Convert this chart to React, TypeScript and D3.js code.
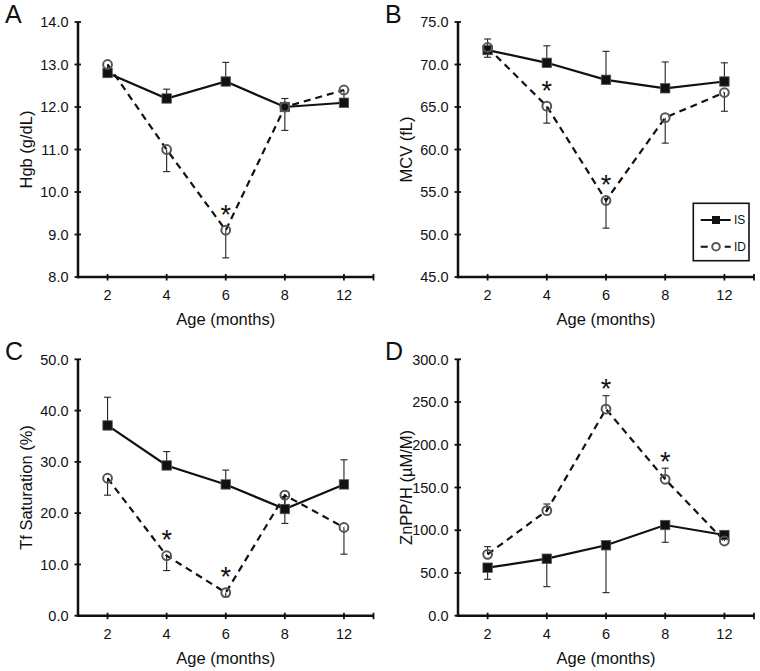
import React from "react";
import * as d3 from "d3";

const months = ["2", "4", "6", "8", "12"];

const hgbIS = [12.8, 12.2, 12.6, 12.0, 12.1];
const hgbISErr = [0.1, 0.22, 0.45, 0.2, 0.1];
const hgbID = [13.0, 11.0, 9.1, 12.0, 12.4];
const hgbIDErr = [0.1, 0.52, 0.65, 0.55, 0.3];
const hgbStars = ["6"];

const mcvIS = [71.7, 70.2, 68.2, 67.2, 68.0];
const mcvISErr = [1.3, 2.0, 3.35, 3.1, 2.2];
const mcvID = [72.0, 65.1, 54.0, 63.75, 66.7];
const mcvIDErr = [1.15, 2.0, 3.25, 3.0, 2.2];
const mcvStars = ["4", "6"];

const tfIS = [37.1, 29.3, 25.6, 20.8, 25.6];
const tfISErr = [5.5, 2.7, 2.8, 2.4, 4.8];
const tfID = [26.8, 11.7, 4.5, 23.5, 17.2];
const tfIDErr = [3.3, 2.9, 0.8, 5.5, 5.2];
const tfStars = ["4", "6"];

const znIS = [56.2, 66.7, 82.4, 106.1, 94.4];
const znISErr = [13.6, 32.7, 55.4, 20.2, 3];
const znID = [71.8, 122.9, 241.8, 159.6, 87.4];
const znIDErr = [9, 7.8, 15.6, 13, 3];
const znStars = ["6", "8"];

const legendLabels = ["IS", "ID"];
const xTitle = "Age (months)";

const FONT = "'Liberation Sans', Arial, Helvetica, sans-serif";

type Panel = {
  letter: string;
  label: string;
  is: number[];
  isErr: number[];
  id: number[];
  idErr: number[];
  domain: [number, number];
  step: number;
  stars: string[];
  isSign: number;
  col: number;
  row: number;
  legend: boolean;
};

const panels: Panel[] = [
  { letter: "A", label: "Hgb (g/dL)", is: hgbIS, isErr: hgbISErr, id: hgbID, idErr: hgbIDErr, domain: [8, 14], step: 1, stars: hgbStars, isSign: 1, col: 0, row: 0, legend: false },
  { letter: "B", label: "MCV (fL)", is: mcvIS, isErr: mcvISErr, id: mcvID, idErr: mcvIDErr, domain: [45, 75], step: 5, stars: mcvStars, isSign: 1, col: 1, row: 0, legend: true },
  { letter: "C", label: "Tf Saturation (%)", is: tfIS, isErr: tfISErr, id: tfID, idErr: tfIDErr, domain: [0, 50], step: 10, stars: tfStars, isSign: 1, col: 0, row: 1, legend: false },
  { letter: "D", label: "ZnPP/H (\u00b5M/M)", is: znIS, isErr: znISErr, id: znID, idErr: znIDErr, domain: [0, 300], step: 50, stars: znStars, isSign: -1, col: 1, row: 1, legend: false },
];

const colX = [
  [78, 373.5],
  [458, 754],
];
const rowY = [
  [277, 22],
  [615.7, 359.3],
];

function PanelView({ p }: { p: Panel }) {
  const [x0, x1] = colX[p.col];
  const [yb, yt] = rowY[p.row];
  const x = d3.scaleBand<string>().domain(months).range([x0, x1]).padding(0);
  const cx = (m: string) => (x(m) as number) + x.bandwidth() / 2;
  const y = d3.scaleLinear().domain(p.domain).range([yb, yt]);
  const ticks = d3.range(p.domain[0], p.domain[1] + p.step / 2, p.step);
  const fmt = d3.format(".1f");
  const line = d3
    .line<number>()
    .x((_, i) => cx(months[i]))
    .y((v) => y(v));
  const capW = 3.5;

  const errBars = (vals: number[], errs: number[], sign: number, key: string) =>
    vals.map((v, i) => {
      const px = cx(months[i]);
      const ye = y(v + sign * errs[i]);
      return (
        <g key={key + i}>
          <line x1={px} x2={px} y1={y(v)} y2={ye} stroke="#222" strokeWidth={1.1} />
          <line x1={px - capW} x2={px + capW} y1={ye} y2={ye} stroke="#222" strokeWidth={1.1} />
        </g>
      );
    });

  const idSign = -p.isSign;

  return (
    <g>
      {/* panel letter */}
      <text x={x0 - 73} y={yt + 1} fontSize={25} fontFamily={FONT} fill="#111">
        {p.letter}
      </text>
      {/* y axis */}
      <line x1={x0} x2={x0} y1={yb + 1.2} y2={yt} stroke="#111" strokeWidth={2.5} />
      {ticks.map((t) => (
        <g key={"yt" + t}>
          <line x1={x0 - 3.5} x2={x0 + 3} y1={y(t)} y2={y(t)} stroke="#111" strokeWidth={1.8} />
          <text x={x0 - 9.5} y={y(t)} dy="0.36em" textAnchor="end" fontSize={14.5} fontFamily={FONT} fill="#111">
            {fmt(t)}
          </text>
        </g>
      ))}
      {/* x axis */}
      <line x1={x0 - 1.2} x2={x1} y1={yb} y2={yb} stroke="#111" strokeWidth={2.5} />
      {months.map((m) => (
        <g key={"xt" + m}>
          <line x1={cx(m)} x2={cx(m)} y1={yb - 3} y2={yb + 3.5} stroke="#111" strokeWidth={1.8} />
          <text x={cx(m)} y={yb + 23} textAnchor="middle" fontSize={14.5} fontFamily={FONT} fill="#111">
            {m}
          </text>
        </g>
      ))}
      <line x1={x1} x2={x1} y1={yb - 3} y2={yb + 3.5} stroke="#111" strokeWidth={1.8} />
      {/* titles */}
      <text x={(x0 + x1) / 2} y={yb + 48} textAnchor="middle" fontSize={16.5} fontFamily={FONT} fill="#111">
        {xTitle}
      </text>
      <text
        transform={`translate(${x0 - 46},${(yb + yt) / 2}) rotate(-90)`}
        textAnchor="middle"
        fontSize={16.5}
        fontFamily={FONT}
        fill="#111"
      >
        {p.label}
      </text>
      {/* error bars */}
      {errBars(p.is, p.isErr, p.isSign, "ise")}
      {errBars(p.id, p.idErr, idSign, "ide")}
      {/* lines */}
      <path d={line(p.is) || ""} fill="none" stroke="#111" strokeWidth={2.2} />
      <path d={line(p.id) || ""} fill="none" stroke="#111" strokeWidth={2.2} strokeDasharray="7,5" />
      {/* markers */}
      {p.is.map((v, i) => (
        <rect key={"sq" + i} x={cx(months[i]) - 4.7} y={y(v) - 4.7} width={9.4} height={9.4} fill="#111" stroke="#555" strokeWidth={0.8} />
      ))}
      {p.id.map((v, i) => (
        <circle key={"ci" + i} cx={cx(months[i])} cy={y(v)} r={4.4} fill="none" stroke="#555" strokeWidth={2} />
      ))}
      {/* significance */}
      {p.stars.map((m) => {
        const i = months.indexOf(m);
        const v = p.id[i];
        const top = Math.min(y(v), y(v + idSign * p.idErr[i]));
        const gap = idSign > 0 ? 13 : 22;
        return (
          <text key={"st" + m} x={cx(m)} y={top - gap} dy="0.58em" textAnchor="middle" fontSize={27} fontFamily={FONT} fill="#111">
            *
          </text>
        );
      })}
      {/* legend */}
      {p.legend && (
        <g>
          <rect x={693.3} y={203.3} width={55.7} height={57.4} fill="#fff" stroke="#111" strokeWidth={1.6} />
          {legendLabels.map((lab, k) => {
            const ly = 220 + k * 26.7;
            return (
              <g key={lab}>
                <line x1={700.7} x2={730.7} y1={ly} y2={ly} stroke="#111" strokeWidth={2} strokeDasharray={k === 1 ? "7,5" : undefined} />
                {k === 0 ? (
                  <rect x={716 - 4} y={ly - 4} width={8} height={8} fill="#111" />
                ) : (
                  <circle cx={716} cy={ly} r={3.8} fill="#fff" stroke="#555" strokeWidth={2} />
                )}
                <text x={734} y={ly} dy="0.36em" fontSize={12} fontFamily={FONT} fill="#111">
                  {lab}
                </text>
              </g>
            );
          })}
        </g>
      )}
    </g>
  );
}

export default function App() {
  return (
    <svg
      width={760}
      height={671}
      viewBox="0 0 760 671"
      style={{ position: "absolute", left: 0, top: 0, background: "#fff" }}
    >
      <rect x={0} y={0} width={760} height={671} fill="#fff" />
      {panels.map((p) => (
        <PanelView key={p.letter} p={p} />
      ))}
    </svg>
  );
}
